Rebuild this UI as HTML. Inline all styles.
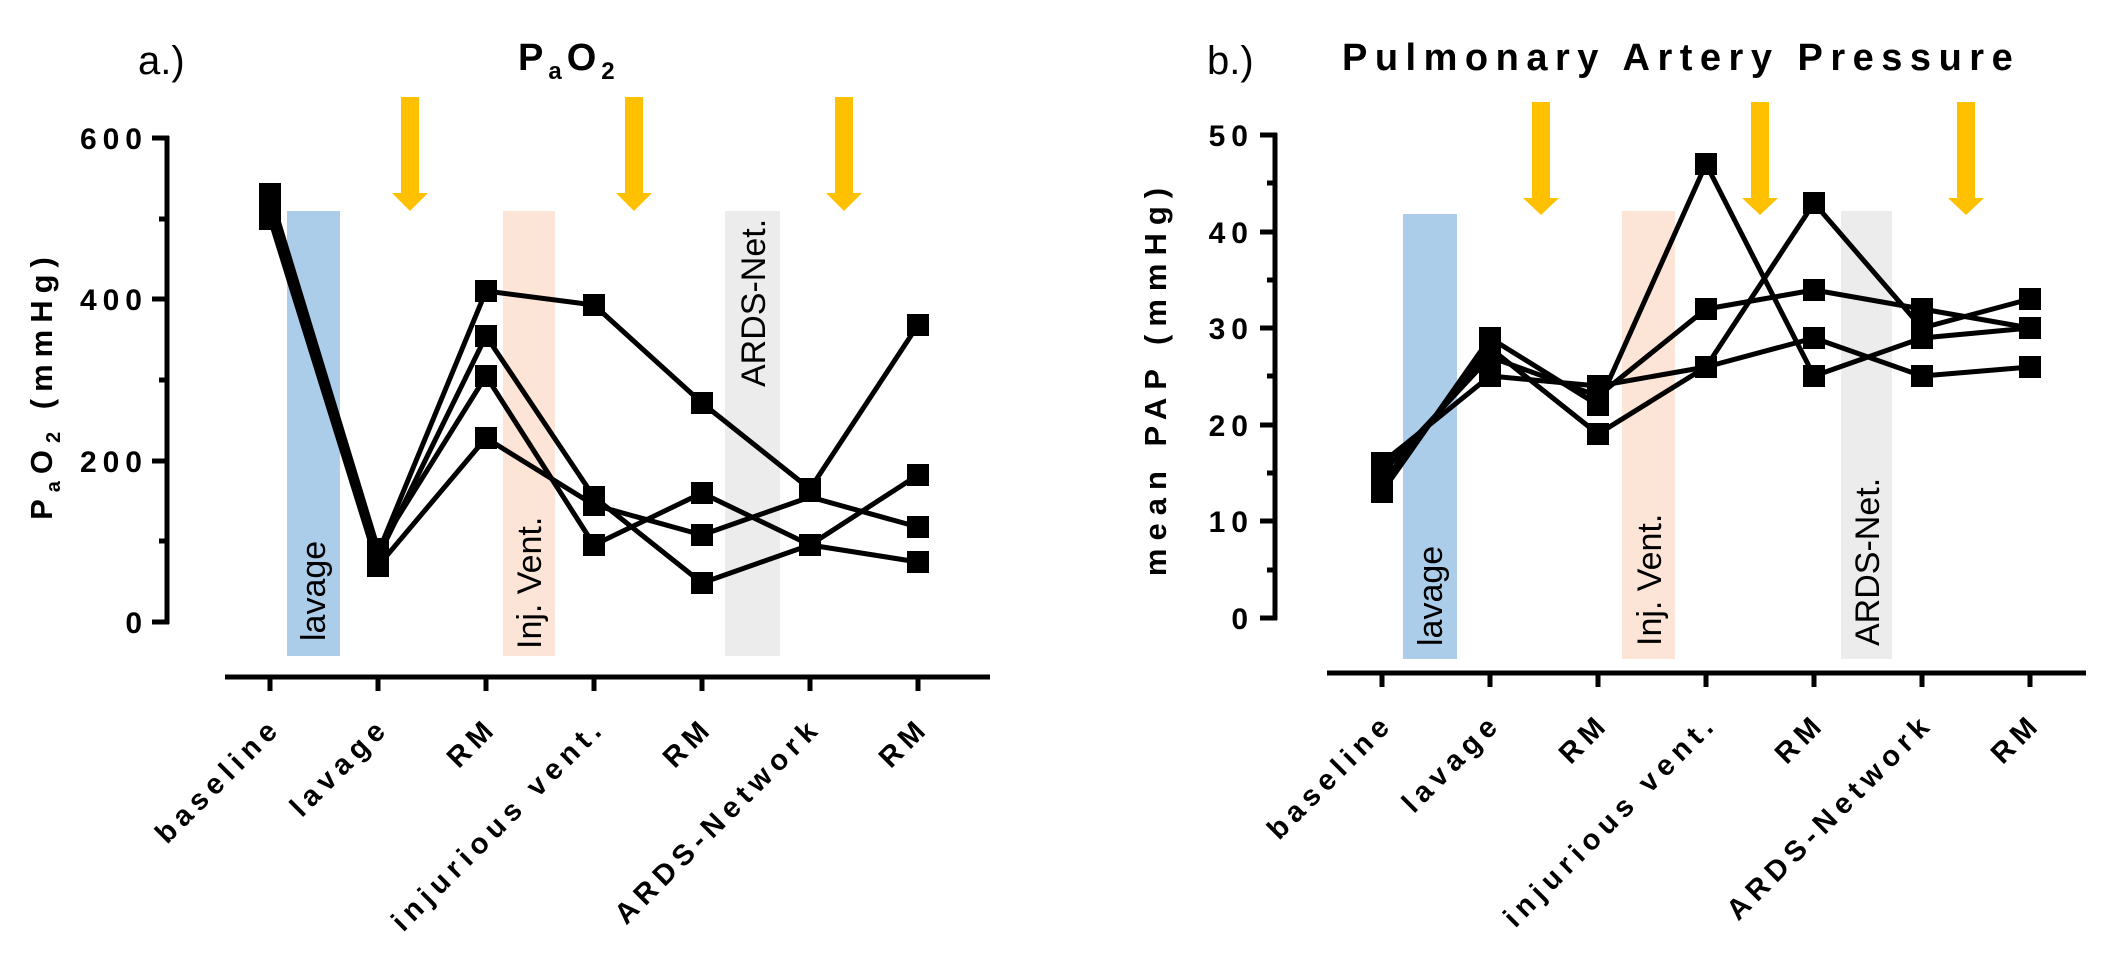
<!DOCTYPE html>
<html><head><meta charset="utf-8"><style>
html,body{margin:0;padding:0;background:#fff;}
svg{display:block;}
text{font-family:"Liberation Sans",Arial,sans-serif;}
.b{font-weight:bold;}
</style></head><body>
<svg width="2112" height="976" viewBox="0 0 2112 976" xmlns="http://www.w3.org/2000/svg">
<!-- ========== LEFT PANEL ========== -->
<text x="138" y="74" font-size="40">a.)</text>
<text x="518" y="70" font-size="38" class="b" letter-spacing="5">P<tspan font-size="24" dy="9">a</tspan><tspan dy="-9">O</tspan><tspan font-size="24" dy="9">2</tspan></text>
<rect x="287" y="211" width="53" height="445" fill="#abcde9"/>
<rect x="503" y="211" width="52" height="445" fill="#fce4d6"/>
<rect x="725" y="211" width="55" height="445" fill="#ececec"/>
<text transform="translate(325,641) rotate(-90)" font-size="34">lavage</text>
<text transform="translate(541,649) rotate(-90)" font-size="34">Inj. Vent.</text>
<text transform="translate(765,387) rotate(-90)" font-size="34">ARDS-Net.</text>
<g fill="#ffc000">
<polygon points="401,97 419,97 419,193 428,193 410,211 392,193 401,193"/>
<polygon points="625,97 643,97 643,193 652,193 634,211 616,193 625,193"/>
<polygon points="835,97 853,97 853,193 862,193 844,211 826,193 835,193"/>
</g>
<g stroke="#000" stroke-width="5" fill="none">
<line x1="167" y1="136" x2="167" y2="624"/>
<line x1="152" y1="138" x2="169" y2="138"/>
<line x1="152" y1="299" x2="169" y2="299"/>
<line x1="152" y1="461" x2="169" y2="461"/>
<line x1="152" y1="622" x2="169" y2="622"/>
<line x1="159" y1="219" x2="169" y2="219"/>
<line x1="159" y1="380" x2="169" y2="380"/>
<line x1="159" y1="541" x2="169" y2="541"/>
<line x1="225" y1="677" x2="990" y2="677"/>
<line x1="270" y1="677" x2="270" y2="691"/>
<line x1="378" y1="677" x2="378" y2="691"/>
<line x1="486" y1="677" x2="486" y2="691"/>
<line x1="594" y1="677" x2="594" y2="691"/>
<line x1="702" y1="677" x2="702" y2="691"/>
<line x1="810" y1="677" x2="810" y2="691"/>
<line x1="918" y1="677" x2="918" y2="691"/>
</g>
<g font-size="30" class="b" text-anchor="end" letter-spacing="6">
<text x="148" y="149">600</text>
<text x="148" y="310">400</text>
<text x="148" y="472">200</text>
<text x="148" y="633">0</text>
</g>
<text transform="translate(52,385) rotate(-90)" font-size="31" class="b" text-anchor="middle" letter-spacing="7">P<tspan font-size="20" dy="8">a</tspan><tspan dy="-8">O</tspan><tspan font-size="20" dy="8">2</tspan><tspan dy="-8"> (mmHg)</tspan></text>
<g font-size="29" class="b" text-anchor="end" letter-spacing="6">
<text transform="translate(283,729) rotate(-45)">baseline</text>
<text transform="translate(391,729) rotate(-45)">lavage</text>
<text transform="translate(499,729) rotate(-45)">RM</text>
<text transform="translate(607,729) rotate(-45)">injurious vent.</text>
<text transform="translate(715,729) rotate(-45)">RM</text>
<text transform="translate(823,729) rotate(-45)">ARDS-Network</text>
<text transform="translate(931,729) rotate(-45)">RM</text>
</g>
<g stroke="#000" stroke-width="5" fill="none" stroke-linejoin="round">
<polyline points="270,203 378,553 486,291 594,305 702,403 810,489 918,325"/>
<polyline points="270,211 378,557 486,336 594,497 702,583 810,545 918,562"/>
<polyline points="270,194 378,549 486,376 594,545 702,493 810,545 918,475"/>
<polyline points="270,219 378,566 486,438 594,505 702,535 810,497 918,527"/>
</g>
<g fill="#000">
<rect x="259" y="183" width="22" height="47"/>
<rect x="367" y="538" width="22" height="39"/>
<rect x="475" y="280" width="22" height="22"/><rect x="475" y="325" width="22" height="22"/><rect x="475" y="365" width="22" height="22"/><rect x="475" y="427" width="22" height="22"/>
<rect x="583" y="294" width="22" height="22"/><rect x="583" y="486" width="22" height="30"/><rect x="583" y="534" width="22" height="22"/>
<rect x="691" y="392" width="22" height="22"/><rect x="691" y="482" width="22" height="22"/><rect x="691" y="524" width="22" height="22"/><rect x="691" y="572" width="22" height="22"/>
<rect x="799" y="478" width="22" height="24"/><rect x="799" y="534" width="22" height="22"/>
<rect x="907" y="314" width="22" height="22"/><rect x="907" y="464" width="22" height="22"/><rect x="907" y="516" width="22" height="22"/><rect x="907" y="551" width="22" height="22"/>
</g>

<!-- ========== RIGHT PANEL ========== -->
<text x="1207" y="74" font-size="40">b.)</text>
<text x="1342" y="70" font-size="38" class="b" letter-spacing="7.5">Pulmonary Artery Pressure</text>
<rect x="1403" y="214" width="54" height="445" fill="#abcde9"/>
<rect x="1622" y="211" width="53" height="448" fill="#fce4d6"/>
<rect x="1841" y="211" width="51" height="448" fill="#ececec"/>
<text transform="translate(1442,646) rotate(-90)" font-size="34">lavage</text>
<text transform="translate(1661,646) rotate(-90)" font-size="34">Inj. Vent.</text>
<text transform="translate(1879,646) rotate(-90)" font-size="34">ARDS-Net.</text>
<g fill="#ffc000">
<polygon points="1532,102 1550,102 1550,198 1559,198 1541,215 1523,198 1532,198"/>
<polygon points="1751,102 1769,102 1769,198 1778,198 1760,215 1742,198 1751,198"/>
<polygon points="1957,102 1975,102 1975,198 1984,198 1966,215 1948,198 1957,198"/>
</g>
<g stroke="#000" stroke-width="5" fill="none">
<line x1="1275" y1="133" x2="1275" y2="620"/>
<line x1="1260" y1="135" x2="1277" y2="135"/>
<line x1="1260" y1="232" x2="1277" y2="232"/>
<line x1="1260" y1="328" x2="1277" y2="328"/>
<line x1="1260" y1="425" x2="1277" y2="425"/>
<line x1="1260" y1="521" x2="1277" y2="521"/>
<line x1="1260" y1="618" x2="1277" y2="618"/>
<line x1="1267" y1="183" x2="1277" y2="183"/>
<line x1="1267" y1="280" x2="1277" y2="280"/>
<line x1="1267" y1="376" x2="1277" y2="376"/>
<line x1="1267" y1="473" x2="1277" y2="473"/>
<line x1="1267" y1="570" x2="1277" y2="570"/>
<line x1="1327" y1="673" x2="2086" y2="673"/>
<line x1="1382" y1="673" x2="1382" y2="687"/>
<line x1="1490" y1="673" x2="1490" y2="687"/>
<line x1="1598" y1="673" x2="1598" y2="687"/>
<line x1="1706" y1="673" x2="1706" y2="687"/>
<line x1="1814" y1="673" x2="1814" y2="687"/>
<line x1="1922" y1="673" x2="1922" y2="687"/>
<line x1="2030" y1="673" x2="2030" y2="687"/>
</g>
<g font-size="30" class="b" text-anchor="end" letter-spacing="6">
<text x="1254" y="146">50</text>
<text x="1254" y="243">40</text>
<text x="1254" y="339">30</text>
<text x="1254" y="436">20</text>
<text x="1254" y="532">10</text>
<text x="1254" y="629">0</text>
</g>
<text transform="translate(1166,378) rotate(-90)" font-size="31" class="b" text-anchor="middle" letter-spacing="8">mean PAP (mmHg)</text>
<g font-size="29" class="b" text-anchor="end" letter-spacing="6">
<text transform="translate(1395,725) rotate(-45)">baseline</text>
<text transform="translate(1503,725) rotate(-45)">lavage</text>
<text transform="translate(1611,725) rotate(-45)">RM</text>
<text transform="translate(1719,725) rotate(-45)">injurious vent.</text>
<text transform="translate(1827,725) rotate(-45)">RM</text>
<text transform="translate(1935,725) rotate(-45)">ARDS-Network</text>
<text transform="translate(2043,725) rotate(-45)">RM</text>
</g>
<g stroke="#000" stroke-width="5" fill="none" stroke-linejoin="round">
<polyline points="1382,492 1490,338 1598,405 1706,164 1814,376 1922,338 2030,328"/>
<polyline points="1382,483 1490,348 1598,434 1706,367 1814,203 1922,328 2030,299"/>
<polyline points="1382,473 1490,357 1598,396 1706,309 1814,290 1922,309 2030,328"/>
<polyline points="1382,463 1490,376 1598,386 1706,367 1814,338 1922,376 2030,367"/>
</g>
<g fill="#000">
<rect x="1371" y="452" width="22" height="51"/>
<rect x="1479" y="327" width="22" height="60"/>
<rect x="1587" y="375" width="22" height="41"/><rect x="1587" y="423" width="22" height="22"/>
<rect x="1695" y="153" width="22" height="22"/><rect x="1695" y="298" width="22" height="22"/><rect x="1695" y="356" width="22" height="22"/>
<rect x="1803" y="192" width="22" height="22"/><rect x="1803" y="279" width="22" height="22"/><rect x="1803" y="327" width="22" height="22"/><rect x="1803" y="365" width="22" height="22"/>
<rect x="1911" y="298" width="22" height="51"/><rect x="1911" y="365" width="22" height="22"/>
<rect x="2019" y="288" width="22" height="22"/><rect x="2019" y="317" width="22" height="22"/><rect x="2019" y="356" width="22" height="22"/>
</g>
</svg>
</body></html>
